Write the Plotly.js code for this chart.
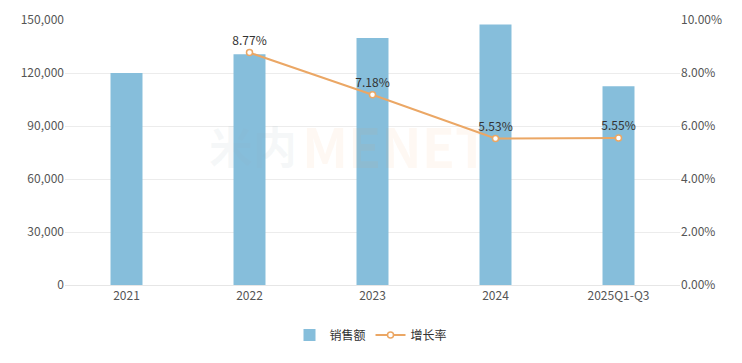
<!DOCTYPE html>
<html><head><meta charset="utf-8">
<script src="https://cdn.plot.ly/plotly-3.0.1.min.js"></script>
<style>html,body{margin:0;padding:0;background:#fff}#c{width:742px;height:363px}</style>
</head><body><div id="c"></div>
<script>
const categories = ["2021", "2022", "2023", "2024", "2025Q1-Q3"];
const sales = [120000, 130600, 139800, 147500, 112500];
const growthCats = ["2022", "2023", "2024", "2025Q1-Q3"];
const growth = [8.77, 7.18, 5.53, 5.55];
const growthLabels = ["8.77%", "7.18%", "5.53%", "5.55%"];

const font = "'Microsoft YaHei','Noto Sans CJK SC','Noto Sans',sans-serif";
const traces = [
  {type: "bar", x: categories, y: sales, name: "销售额", marker: {color: "#86bedb"}, width: 0.26, hoverinfo: "none"},
  {type: "scatter", mode: "lines+markers+text", x: growthCats, y: growth, yaxis: "y2", name: "增长率",
   line: {color: "#eba765", width: 2}, marker: {symbol: "circle", size: 6, color: "#fff", line: {color: "#eba765", width: 1.5}},
   text: growthLabels, textposition: "top center", textfont: {size: 12, color: "#333", family: font}, cliponaxis: false, hoverinfo: "none"}
];
const layout = {
  width: 742, height: 363,
  margin: {l: 65, r: 62, t: 20, b: 78},
  paper_bgcolor: "#fff", plot_bgcolor: "#fff",
  font: {family: font, size: 12, color: "#666"},
  xaxis: {type: "category", showgrid: false, showline: true, linecolor: "#e6e6e6", ticks: "", tickfont: {size: 12, color: "#555"}},
  yaxis: {range: [0, 150000], dtick: 30000, tickformat: ",d", gridcolor: "#ececec", zeroline: false, ticks: "", ticklen: 0, tickfont: {size: 12, color: "#555"}},
  yaxis2: {overlaying: "y", side: "right", range: [0, 10], dtick: 2, ticksuffix: "%", tickformat: ".2f", showgrid: false, zeroline: false, tickfont: {size: 12, color: "#555"}},
  legend: {orientation: "h", x: 0.5, xanchor: "center", xref: "container", y: 0.077, yanchor: "middle", yref: "container", font: {size: 12, color: "#333"}},
  showlegend: true,
  annotations: [
    {text: "<b>米内</b>", xref: "paper", yref: "paper", x: 0.306, y: 0.53, xanchor: "center", yanchor: "middle", showarrow: false,
     font: {size: 44, color: "rgba(150,175,190,0.09)", family: font}},
    {text: "<b>MENET</b>", xref: "paper", yref: "paper", x: 0.537, y: 0.53, xanchor: "center", yanchor: "middle", showarrow: false,
     font: {size: 54, color: "rgba(240,150,90,0.07)", family: font}}
  ]
};
Plotly.newPlot("c", traces, layout, {displayModeBar: false, staticPlot: true});
</script></body></html>
